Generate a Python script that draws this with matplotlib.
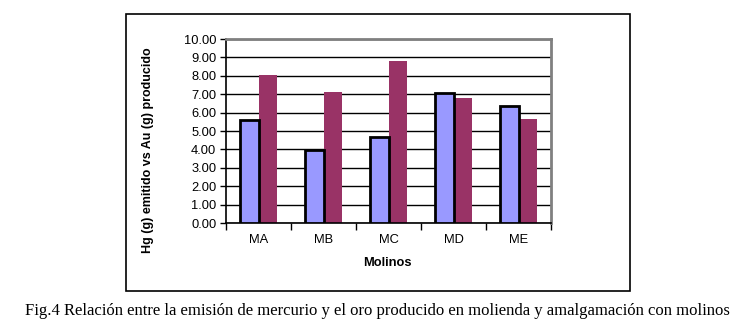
import matplotlib.pyplot as plt
import numpy as np
from matplotlib.patches import Rectangle

plt.rcParams['font.family'] = ['Liberation Sans', 'DejaVu Sans']

molinos = ["MA", "MB", "MC", "MD", "ME"]
hg_emitido = [5.61, 3.96, 4.68, 7.08, 6.35]
au_producido = [8.03, 7.12, 8.78, 6.77, 5.64]
yticks = [0, 1, 2, 3, 4, 5, 6, 7, 8, 9, 10]

fig = plt.figure(figsize=(7.45, 3.29), dpi=100)
W, H = 745, 329
# plot area in pixels: left 226, right 551, top 39, bottom 223
ax = fig.add_axes([226 / W, 1 - 223 / H, (551 - 226) / W, (223 - 39) / H])

x = np.arange(len(molinos))
w = 0.29
ax.bar(x - w / 2, hg_emitido, w, color="#9999FF", edgecolor="black",
       linewidth=2, zorder=3)
ax.bar(x + w / 2, au_producido, w, color="#993366", edgecolor="none",
       zorder=2)

ax.set_xlim(-0.5, len(molinos) - 0.5)
ax.set_ylim(0, 10)
ax.set_yticks(yticks)
ax.set_yticklabels(["%.2f" % v for v in yticks], fontsize=9.3)
ax.yaxis.grid(True, color="black", linewidth=1)
ax.set_axisbelow(True)

ax.set_xticks(x)
ax.set_xticklabels(molinos, fontsize=9.3)
ax.set_xticks(np.arange(-0.5, len(molinos)), minor=True)
ax.tick_params(axis="x", which="major", length=0, pad=8)
ax.tick_params(axis="x", which="minor", length=5, width=1, direction="out")
ax.tick_params(axis="y", length=4, width=1, direction="out", pad=3)

ax.spines["top"].set_color("#808080")
ax.spines["right"].set_color("#808080")
ax.spines["top"].set_linewidth(2)
ax.spines["right"].set_linewidth(2)
ax.spines["left"].set_linewidth(1.2)
ax.spines["bottom"].set_linewidth(1.2)

fig.text(387 / W, 1 - 263 / H, "Molinos", fontsize=9.3, fontweight="bold",
         ha="center", va="center")
fig.text(148 / W, 1 - 150 / H, "Hg (g) emitido vs Au (g) producido",
         fontsize=9, fontweight="bold", rotation=90, ha="center", va="center")

# outer chart frame
frame = Rectangle((126 / W, 1 - 291 / H), (630 - 126) / W, (291 - 14) / H,
                  transform=fig.transFigure, fill=False, edgecolor="black",
                  linewidth=1.2)
fig.patches.append(frame)

fig.text(377 / W, 1 - 311 / H,
         "Fig.4 Relación entre la emisión de mercurio y el oro producido en molienda y amalgamación con molinos",
         family="Liberation Serif", fontsize=12, ha="center", va="center")

fig.savefig("out.png", dpi=100)
